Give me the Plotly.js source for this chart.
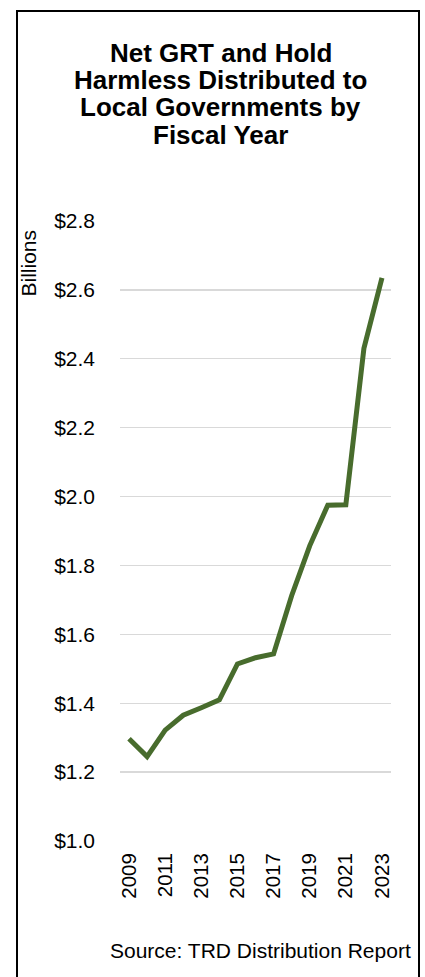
<!DOCTYPE html>
<html>
<head>
<meta charset="utf-8">
<script src="https://cdn.plot.ly/plotly-3.0.1.min.js"></script>
<style>html,body{margin:0;padding:0;background:#fff;}#chart{width:425px;height:977px;}</style>
</head>
<body>
<div id="chart"></div>
<script>
// Data
var fiscalYears = [2009, 2010, 2011, 2012, 2013, 2014, 2015, 2016, 2017, 2018, 2019, 2020, 2021, 2022, 2023];
var distributedBillions = [1.297, 1.245, 1.322, 1.365, 1.387, 1.410, 1.514, 1.532, 1.543, 1.712, 1.857, 1.975, 1.976, 2.430, 2.635];
var xTickYears = [2009, 2011, 2013, 2015, 2017, 2019, 2021, 2023];
var yTickValues = [1.0, 1.2, 1.4, 1.6, 1.8, 2.0, 2.2, 2.4, 2.6, 2.8];
var yTickLabels = ['$1.0', '$1.2', '$1.4', '$1.6', '$1.8', '$2.0', '$2.2', '$2.4', '$2.6', '$2.8'];
var titleLines = ['Net GRT and Hold', 'Harmless Distributed to', 'Local Governments by', 'Fiscal Year'];
var yAxisLabel = 'Billions';
var sourceNote = 'Source: TRD Distribution Report';

var W = 425, H = 977;
var plotL = 120, plotR = 391, plotT = 221, plotB = 841;
var pw = plotR - plotL, ph = plotB - plotT;
function px(x) { return (x - plotL) / pw; }
function py(y) { return (plotB - y) / ph; }

var FONT = 'Liberation Sans, Arial, sans-serif';

var annotations = [];
var titleCenters = [52.5, 80, 107.5, 135];
titleLines.forEach(function (t, i) {
  annotations.push({
    text: '<b>' + t + '</b>', xref: 'paper', yref: 'paper', x: px(220.5), y: py(titleCenters[i]),
    xanchor: 'center', yanchor: 'middle', showarrow: false,
    font: {family: FONT, size: 26, color: '#000'}
  });
});
annotations.push({
  text: yAxisLabel, xref: 'paper', yref: 'paper', x: px(28), y: py(263.5),
  xanchor: 'center', yanchor: 'middle', textangle: -90, showarrow: false,
  font: {family: FONT, size: 21, color: '#000'}
});
annotations.push({
  text: sourceNote, xref: 'paper', yref: 'paper', x: px(413), y: py(950),
  xanchor: 'right', yanchor: 'middle', showarrow: false,
  font: {family: FONT, size: 21, color: '#000'}
});

var trace = {
  x: fiscalYears, y: distributedBillions, type: 'scatter', mode: 'lines',
  line: {color: 'rgb(72,108,45)', width: 5, shape: 'linear'},
  hoverinfo: 'skip'
};

var layout = {
  width: W, height: H,
  margin: {l: plotL, r: W - plotR, t: plotT, b: H - plotB, pad: 0},
  paper_bgcolor: '#fff', plot_bgcolor: '#fff',
  showlegend: false,
  font: {family: FONT, size: 21, color: '#000'},
  xaxis: {
    range: [2008.5, 2023.5], tickmode: 'array', tickvals: xTickYears,
    ticktext: xTickYears.map(String), tickangle: -90, ticks: '',
    showgrid: false, zeroline: false, showline: false,
    ticklabelstandoff: 7,
    tickfont: {family: FONT, size: 20.5, color: '#000'}
  },
  yaxis: {
    range: [1.0, 2.8], tickmode: 'array', tickvals: yTickValues, ticktext: yTickLabels,
    ticks: '', showgrid: true, gridcolor: '#d9d9d9', gridwidth: 1.3,
    zeroline: false, showline: false, ticklabelstandoff: 24,
    tickfont: {family: FONT, size: 21, color: '#000'}
  },
  annotations: annotations,
  shapes: [{
    type: 'rect', xref: 'paper', yref: 'paper',
    x0: px(17), x1: px(419), y0: py(990), y1: py(11),
    line: {color: '#000', width: 2}, fillcolor: 'rgba(0,0,0,0)', layer: 'above'
  }]
};

Plotly.newPlot('chart', [trace], layout, {displayModeBar: false, staticPlot: true});
</script>
</body>
</html>
